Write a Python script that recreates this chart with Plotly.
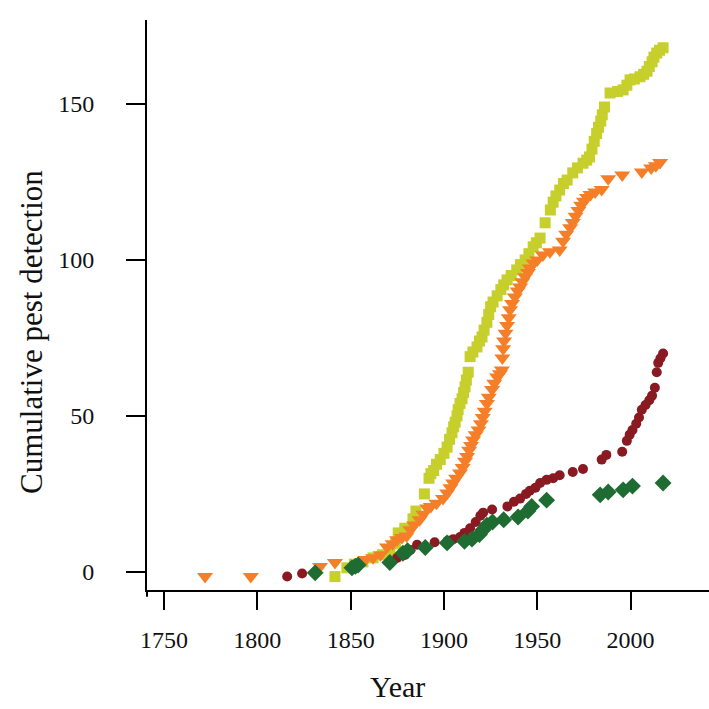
import plotly.graph_objects as go

# Cumulative detections per group: (year, running count)
lime_years = [1841.6, 1848, 1852, 1856.6, 1862, 1867, 1871, 1874, 1875.5, 1879,
              1883.4, 1885, 1889.5, 1892, 1893, 1894.5, 1896, 1898, 1900, 1901.7,
              1903, 1904.3, 1905.2, 1906, 1907, 1907.6, 1908.6, 1909.7, 1910.5, 1911.3,
              1912, 1913, 1914, 1915.5, 1917.7, 1919, 1920.4, 1921.5, 1923, 1924,
              1925, 1926.3, 1928.5, 1930.5, 1932, 1933.8, 1936, 1939, 1941, 1943.5,
              1945.5, 1947.8, 1949.5, 1951.5, 1954.2, 1957, 1958.5, 1960, 1962, 1964,
              1966, 1969, 1971.5, 1974.5, 1976.5, 1978, 1979.3, 1980.5, 1981.8, 1982.8,
              1984, 1984.8, 1986, 1989, 1993, 1996, 1998, 1999.7, 2002, 2005,
              2007, 2008.8, 2010, 2011.5, 2012.5, 2014, 2015.5, 2017.4]
lime_counts = [-1.5, 1.3, 2.5, 3.2, 4.5, 5.5, 6.4, 9, 12.5, 14,
               17, 19.5, 25, 30, 31.5, 32.5, 34.5, 36, 38, 40,
               42.5, 44.6, 46.5, 48, 50, 52, 54, 55.5, 57.5, 59.3,
               61.5, 64, 69, 70.5, 72.1, 74, 75.3, 77.5, 80, 82.5,
               85, 86.5, 88.5, 90.5, 92, 93.6, 95, 96.8, 98.5, 100,
               102, 104.2, 105.5, 107, 111.9, 116, 118.5, 120.5, 122.4, 124.5,
               125.6, 127.9, 129.5, 131, 132, 133, 135.5, 138, 140.5, 142.5,
               144.5, 146.5, 149, 153.5, 154, 154.5, 156, 157.7, 158, 158.7,
               159.5, 160.5, 162, 163.5, 165, 166.3, 167.2, 168]

orange_years = [1772, 1796.5, 1833.6, 1841.6, 1858, 1862, 1866, 1869.5, 1872.5, 1874.9,
                1877.5, 1880, 1882, 1884, 1887, 1889, 1891, 1893, 1896, 1899.5,
                1901.7, 1903.5, 1904.9, 1906.5, 1908.6, 1910, 1911.3, 1912.4, 1913.5, 1914.5,
                1915.6, 1917, 1918.5, 1919.8, 1920.8, 1921.8, 1923, 1924, 1925.8, 1927,
                1928.5, 1930, 1931, 1931.3, 1931.7, 1932.2, 1933, 1933.8, 1934.7, 1935.4,
                1936.5, 1938, 1939.5, 1940.8, 1942, 1943.5, 1945, 1946, 1948, 1950,
                1953, 1956.8, 1962, 1963.8, 1965.5, 1967.6, 1969, 1970.5, 1972, 1973.5,
                1975, 1976.7, 1978.5, 1981, 1984.5, 1988, 1995.5, 2006, 2011, 2013.5,
                2015.8]
orange_counts = [-1.5, -1.5, 1.7, 3, 4, 4.5, 5.5, 8, 9, 10.3,
                 11, 11.5, 13.5, 15, 16.7, 18.5, 20.5, 21, 22, 23.5,
                 25.3, 27, 28.5, 30, 31.7, 33.5, 35.5, 37, 39, 40.5,
                 42.3, 44, 45.5, 47.5, 49.5, 51.5, 54, 56, 58.5, 60.5,
                 62.5, 63.5, 64.7, 68.6, 71.5, 74, 76.5, 79, 81.5, 84,
                 86, 88.1, 90, 91.3, 93, 94.6, 96, 97.4, 99, 100,
                 101.6, 102.6, 103.2, 106, 108.2, 110.3, 112, 114, 115.8, 117.5,
                 118.8, 120, 121, 121.8, 122.6, 126, 127.2, 128.2, 129.5, 130.2,
                 131.2]

red_years = [1816, 1824, 1874.9, 1879, 1882, 1885.6, 1895, 1902, 1905, 1908.6,
             1911, 1914, 1917, 1919.5, 1921, 1925.8, 1934, 1937.5, 1940.8, 1944,
             1946, 1949, 1951.5, 1955, 1958.5, 1962, 1969, 1974.5, 1984.5, 1987,
             1995.5, 1998, 1999.5, 2001, 2003, 2004.5, 2006, 2008, 2010, 2011.5,
             2013, 2014, 2014.8, 2016, 2017.4]
red_counts = [-1.5, -0.5, 4.5, 5.4, 7, 8.7, 9.5, 10, 10.5, 11.2,
              12.5, 14, 16, 18, 19, 20, 21, 22.5, 23.5, 25,
              26, 27, 28.5, 29.5, 30, 31, 32, 33, 36, 37.5,
              38.5, 42, 44, 45.5, 47.5, 49.5, 52, 53.5, 55, 56.5,
              59, 64, 67, 68.5, 70]

green_years = [1831, 1850.7, 1852.5, 1854, 1871, 1878, 1880.5, 1890, 1901.7, 1911,
               1915, 1919, 1921, 1923, 1926, 1932, 1939.7, 1945, 1947, 1955,
               1983.7, 1988, 1996, 2001, 2017.4]
green_counts = [-0.3, 1.3, 1.8, 2.2, 3, 6, 6.8, 7.8, 9.3, 9.8,
                10.5, 12, 13.5, 15, 16, 16.7, 17.6, 19.5, 21, 23,
                24.7, 25.6, 26.3, 27.5, 28.5]

x_ticks = [1750, 1800, 1850, 1900, 1950, 2000]
y_ticks = [0, 50, 100, 150]

FONT = "Liberation Serif"
INK = "#111111"

fig = go.Figure()
fig.add_trace(go.Scatter(x=lime_years, y=lime_counts, mode="markers",
                         marker=dict(symbol="square", size=11, color="#c6cf2b")))
fig.add_trace(go.Scatter(x=orange_years, y=orange_counts, mode="markers",
                         marker=dict(symbol="triangle-down", size=14, color="#f47f28")))
fig.add_trace(go.Scatter(x=red_years, y=red_counts, mode="markers",
                         marker=dict(symbol="circle", size=10, color="#8a1a22")))
fig.add_trace(go.Scatter(x=green_years, y=green_counts, mode="markers",
                         marker=dict(symbol="diamond", size=13, color="#1f6c33")))

fig.update_layout(
    width=709, height=709,
    margin=dict(l=147, r=0, t=20, b=119),
    paper_bgcolor="white", plot_bgcolor="white",
    showlegend=False,
    font=dict(family=FONT, color=INK),
    xaxis=dict(range=[1740.9, 2042], tickvals=x_ticks, ticks="outside", ticklen=18,
               tickwidth=2, tickcolor="black", showline=True, linewidth=2,
               linecolor="black", showgrid=False, zeroline=False,
               tickfont=dict(family=FONT, size=24, color=INK),
               ticklabelstandoff=9),
    yaxis=dict(range=[-5.8, 176.9], tickvals=y_ticks, ticks="outside", ticklen=19,
               tickwidth=2, tickcolor="black", showline=True, linewidth=2,
               linecolor="black", showgrid=False, zeroline=False,
               tickfont=dict(family=FONT, size=24, color=INK),
               ticklabelstandoff=27),
    shapes=[
        # y axis line runs a little past the x axis at the corner
        dict(type="line", xref="paper", yref="paper", x0=0, x1=0, y0=0, y1=-0.012,
             line=dict(color="black", width=2)),
    ],
    annotations=[
        dict(text="Year", xref="paper", yref="paper", x=0.4466, y=-0.1696,
             showarrow=False, font=dict(family=FONT, size=30, color=INK),
             xanchor="center", yanchor="middle"),
        dict(text="Cumulative pest detection", xref="paper", yref="paper",
             x=-0.2046, y=0.4528, textangle=-90, showarrow=False,
             font=dict(family=FONT, size=31, color=INK),
             xanchor="center", yanchor="middle"),
    ],
)

fig.write_html("out.html")
